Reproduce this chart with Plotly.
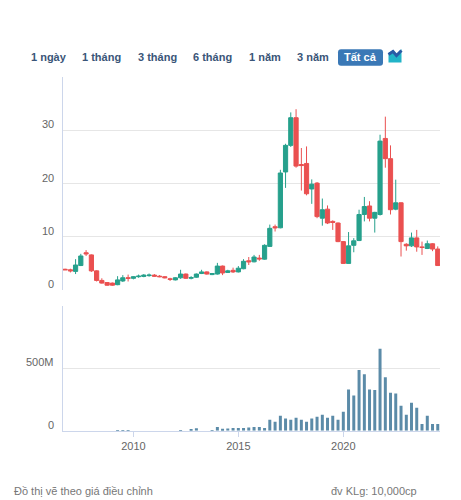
import pandas as pd
import plotly.graph_objects as go

# quarterly candles, 2006Q4 .. 2024Q3
quarters = pd.date_range("2006-10-01", periods=72, freq="QS")

opens = [3.9, 3.8, 3.5, 4.6, 7.0, 6.6, 3.6, 1.8, 1.4, 1.3,
         1.0, 1.7, 2.3, 2.2, 2.5, 2.55, 2.7, 2.8, 2.6, 2.5,
         2.1, 1.9, 2.3, 3.0, 2.2, 2.4, 3.1, 3.4, 2.9, 3.0,
         4.5, 3.3, 3.7, 3.4, 4.0, 5.5, 5.3, 6.0, 5.8, 8.2,
         11.9, 11.7, 22.2, 27.2, 32.4, 23.6, 23.8, 19.0, 20.1, 13.5,
         15.2, 12.9, 12.6, 9.1, 5.0, 8.4, 9.3, 14.2, 15.8, 13.5,
         14.2, 28.5, 24.7, 15.2, 16.4, 8.6, 8.3, 9.8, 8.1, 7.8,
         8.7, 7.7]
highs = [4.0, 4.0, 5.8, 6.8, 7.5, 6.7, 3.7, 2.2, 1.5, 1.4,
         2.6, 2.8, 2.9, 2.6, 2.9, 3.0, 3.1, 3.0, 2.8, 2.6,
         2.3, 2.4, 3.8, 3.1, 2.6, 3.1, 3.8, 3.5, 3.2, 5.1,
         4.6, 3.8, 4.2, 4.5, 5.8, 6.2, 6.6, 6.6, 8.6, 12.3,
         12.3, 22.6, 27.5, 33.4, 34.0, 26.7, 27.0, 20.8, 20.3, 17.2,
         15.9, 13.1, 12.7, 9.2, 10.9, 9.75, 15.1, 17.5, 16.7, 14.7,
         29.2, 32.6, 27.2, 20.75, 16.5, 8.8, 10.8, 11.3, 9.1, 9.3,
         8.8, 8.2]
lows = [3.8, 3.3, 3.0, 4.5, 6.4, 3.4, 1.6, 1.2, 0.8, 0.8,
        0.9, 1.5, 1.6, 2.0, 2.3, 2.4, 2.5, 2.5, 2.4, 2.2,
        1.7, 1.8, 2.1, 2.1, 2.0, 2.3, 3.0, 2.9, 2.8, 2.9,
        2.8, 3.2, 3.2, 3.3, 3.9, 4.7, 5.2, 5.5, 5.7, 8.1,
        11.0, 11.6, 19.2, 26.9, 23.0, 18.7, 17.8, 16.2, 13.5, 12.1,
        12.4, 11.3, 9.0, 5.0, 5.0, 7.1, 9.2, 12.9, 12.9, 10.8,
        14.0, 23.0, 14.2, 15.0, 6.3, 7.4, 8.1, 7.2, 6.6, 7.7,
        7.3, 4.6]
closes = [3.8, 3.6, 4.7, 6.4, 6.8, 3.6, 1.8, 1.3, 0.9, 0.9,
          1.9, 2.3, 2.2, 2.5, 2.6, 2.8, 2.8, 2.6, 2.5, 2.3,
          2.0, 2.3, 3.0, 2.2, 2.35, 3.0, 3.4, 3.0, 3.1, 4.5,
          3.2, 3.6, 3.4, 4.1, 5.4, 5.3, 6.2, 5.85, 8.4, 11.6,
          11.7, 22.0, 27.2, 32.4, 23.3, 23.4, 18.1, 19.9, 13.8, 15.1,
          12.6, 12.7, 9.1, 5.0, 8.3, 9.25, 14.2, 15.7, 13.5, 14.6,
          28.0, 24.7, 15.1, 16.4, 9.1, 8.3, 9.8, 8.1, 8.0, 8.7,
          7.7, 4.6]
# volume, millions of shares
volumes = [0, 0, 0, 0, 0, 0, 0, 0, 0, 0,
           5, 5, 5, 0, 0, 0, 0, 0, 0, 0,
           0, 0, 5, 0, 10, 20, 0, 0, 5, 30,
           15, 18, 22, 22, 22, 25, 30, 30, 22, 87,
           72, 120, 98, 87, 103, 87, 72, 98, 111, 128,
           103, 120, 87, 152, 331, 282, 486, 453, 331, 326,
           657, 429, 304, 299, 201, 128, 225, 185, 54, 120,
           54, 54]

price_ticks = [0, 10, 20, 30, 40]
price_labels = ["0", "10", "20", "30", ""]
vol_ticks = [0, 500, 1000]
vol_labels = ["0", "500M", ""]
year_ticks = ["2010-01-01", "2015-01-01", "2020-01-01"]
year_labels = ["2010", "2015", "2020"]
buttons = ["1 ngày", "1 tháng", "3 tháng", "6 tháng", "1 năm", "3 năm"]
button_x = [48.9, 101.7, 157.3, 212.3, 264.5, 312.5]

# the page puts the figure 8px in from the top-left corner
OFF = 8
W, H = 461 - OFF, 500 - OFF
UP, DOWN = "#26a08c", "#ea5050"
GRID, AXIS = "#e6e6e6", "#ccd6eb"
FONT = "Liberation Sans, Arial, sans-serif"


def px(x):
    return (x - OFF) / W


def py(y):
    return 1 - (y - OFF) / H


fig = go.Figure()
fig.add_trace(go.Candlestick(
    x=quarters, open=opens, high=highs, low=lows, close=closes,
    increasing=dict(line=dict(color=UP, width=1), fillcolor=UP),
    decreasing=dict(line=dict(color=DOWN, width=1), fillcolor=DOWN),
    whiskerwidth=0, xaxis="x", yaxis="y", showlegend=False,
))
fig.add_trace(go.Bar(
    x=quarters, y=volumes, marker_color="#5b8ba8", marker_line_width=0,
    width=52 * 24 * 3600 * 1000, xaxis="x2", yaxis="y2", showlegend=False,
))

xrange = ["2006-08-20", "2024-08-09"]
tickfont = dict(family=FONT, size=11, color="#666666")

fig.update_layout(
    width=W, height=H, margin=dict(l=0, r=0, t=0, b=0),
    paper_bgcolor="white", plot_bgcolor="white",
    font=dict(family=FONT),
    boxgap=0.1, boxgroupgap=0.1,
    xaxis=dict(domain=[px(62.7), px(440)], range=xrange, type="date",
               showticklabels=False, showgrid=False, zeroline=False,
               rangeslider=dict(visible=False), anchor="y"),
    yaxis=dict(domain=[py(290), py(77.3)], range=[0, 40], tickvals=price_ticks,
               showticklabels=False, gridcolor=GRID, zeroline=False,
               showline=True, linecolor=AXIS, anchor="x"),
    xaxis2=dict(domain=[px(62.7), px(440)], range=xrange, type="date",
                tickvals=year_ticks, ticktext=year_labels, showgrid=False,
                zeroline=False, showline=True, linecolor=AXIS, ticks="outside",
                ticklen=5, tickcolor=AXIS, tickfont=tickfont, anchor="y2"),
    yaxis2=dict(domain=[py(430.7), py(306)], range=[0, 1000], tickvals=vol_ticks,
                showticklabels=False, gridcolor=GRID, zeroline=False,
                showline=True, linecolor=AXIS, anchor="x2"),
)

# y tick labels sit a little above their grid lines
for val, lab in zip(price_ticks, price_labels):
    fig.add_annotation(x=px(55.5), y=val, xref="paper", yref="y", text=lab,
                       xanchor="right", yanchor="middle", yshift=6,
                       showarrow=False, font=tickfont)
for val, lab in zip(vol_ticks, vol_labels):
    fig.add_annotation(x=px(55.5), y=val, xref="paper", yref="y2", text=lab,
                       xanchor="right", yanchor="middle", yshift=6,
                       showarrow=False, font=tickfont)

# range selector row
for label, cx in zip(buttons, button_x):
    fig.add_annotation(x=px(cx), y=py(57.3), xref="paper", yref="paper",
                       xanchor="center", yanchor="middle",
                       text=f"<b>{label}</b>", showarrow=False,
                       font=dict(family=FONT, size=11, color="#3a5578"))

x0, x1, y0, y1, r = 338, 383, 49.3, 65.7, 3
path = (f"M {px(x0 + r)},{py(y0)} L {px(x1 - r)},{py(y0)} "
        f"Q {px(x1)},{py(y0)} {px(x1)},{py(y0 + r)} L {px(x1)},{py(y1 - r)} "
        f"Q {px(x1)},{py(y1)} {px(x1 - r)},{py(y1)} L {px(x0 + r)},{py(y1)} "
        f"Q {px(x0)},{py(y1)} {px(x0)},{py(y1 - r)} L {px(x0)},{py(y0 + r)} "
        f"Q {px(x0)},{py(y0)} {px(x0 + r)},{py(y0)} Z")
fig.add_shape(type="path", path=path, xref="paper", yref="paper",
              fillcolor="#3a78b6", line_width=0)
fig.add_annotation(x=px(360.5), y=py(57.3), xref="paper", yref="paper",
                   xanchor="center", yanchor="middle",
                   text="<b>Tất cả</b>", showarrow=False,
                   font=dict(family=FONT, size=11, color="white"))

# small area-chart icon
icon = [(388.5, 62.5), (388.5, 53), (393, 50), (396.5, 54), (401.5, 49), (401.5, 62.5)]
fig.add_shape(type="path", xref="paper", yref="paper", line_width=0,
              fillcolor="#22b4c8",
              path="M " + " L ".join(f"{px(a)},{py(b)}" for a, b in icon) + " Z")
band = [(388.5, 54.5), (393, 51.5), (396.5, 55.5), (401.5, 50.5)]
fig.add_shape(type="path", xref="paper", yref="paper", line=dict(color="#2a5aa5", width=3),
              path="M " + " L ".join(f"{px(a)},{py(b)}" for a, b in band))

# dotted frame edge on the right
fig.add_shape(type="line", xref="paper", yref="paper", x0=px(457.5), x1=px(457.5),
              y0=0, y1=1, line=dict(color="#cccccc", width=1, dash="dot"))

fig.add_annotation(x=px(12), y=py(490.5), xref="paper", yref="paper",
                   xanchor="left", yanchor="middle",
                   text="Đồ thị vẽ theo giá điều chỉnh", showarrow=False,
                   font=dict(family=FONT, size=11, color="#777777"))
fig.add_annotation(x=px(419), y=py(490.5), xref="paper", yref="paper",
                   xanchor="right", yanchor="middle",
                   text="đv KLg: 10,000cp", showarrow=False,
                   font=dict(family=FONT, size=11, color="#777777"))

fig.write_html("out.html")
